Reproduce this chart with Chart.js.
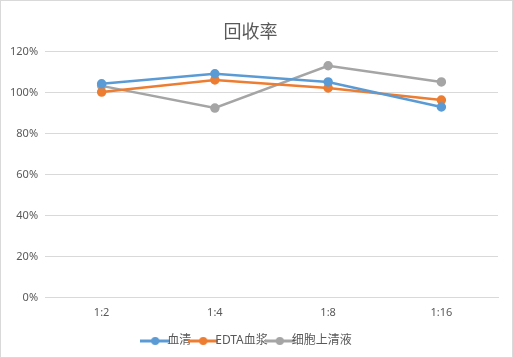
<!DOCTYPE html>
<html>
<head>
<meta charset="utf-8">
<script src="https://cdn.jsdelivr.net/npm/chart.js@4/dist/chart.umd.min.js"></script>
<style>
  html, body { margin: 0; padding: 0; background: #fff; }
  #wrap { position: relative; width: 511px; height: 356px; border: 1px solid #d9d9d9; }
</style>
</head>
<body>
<div id="wrap"><canvas id="lineChart"></canvas></div>
<script>
var xLabels = ["1:2", "1:4", "1:8", "1:16"];
var serum = [1.043, 1.092, 1.052, 0.93];
var edtaPlasma = [1.003, 1.062, 1.023, 0.964];
var cellSupernatant = [1.033, 0.925, 1.131, 1.052];
var seriesNames = ["血清", "EDTA血浆", "细胞上清液"];
var lineColors = ["#5B9BD5", "#ED7D31", "#A5A5A5"];

var font = "'Noto Sans', 'Noto Sans CJK SC', sans-serif";

// legend swatch: short line with a dot in the middle
function legendMark(color) {
    var c = document.createElement("canvas");
    c.width = 30;
    c.height = 10;
    var ctx = c.getContext("2d");
    ctx.strokeStyle = color;
    ctx.lineWidth = 3;
    ctx.beginPath();
    ctx.moveTo(0, 5);
    ctx.lineTo(30, 5);
    ctx.stroke();
    ctx.fillStyle = color;
    ctx.beginPath();
    ctx.arc(15, 5, 4, 0, Math.PI * 2);
    ctx.fill();
    return c;
}

// empty space above the legend items (acts like an invisible legend title)
var legendGap = {
    id: "legendGap",
    beforeInit: function (chart) {
        chart.legend._computeTitleHeight = function () { return 10; };
    }
};

var allValues = [serum, edtaPlasma, cellSupernatant];
var datasets = allValues.map(function (vals, i) {
    return {
        label: seriesNames[i],
        data: vals,
        borderColor: lineColors[i],
        backgroundColor: lineColors[i],
        borderWidth: 2.5,
        pointRadius: 3.5,
        pointHoverRadius: 4,
        pointStyle: "circle",
        tension: 0
    };
});

new Chart("lineChart", {
    type: "line",
    data: {
        labels: xLabels,
        datasets: datasets
    },
    options: {
        responsive: true,
        maintainAspectRatio: false,
        animation: false,
        layout: { padding: { left: 2, right: 14, top: 15, bottom: 0 } },
        plugins: {
            title: {
                display: true,
                text: "回收率",
                color: "#595959",
                font: { family: font, size: 18, weight: "normal" },
                padding: { top: 6, bottom: 8 }
            },
            legend: {
                position: "bottom",
                labels: {
                    color: "#595959",
                    font: { family: font, size: 12 },
                    usePointStyle: true,
                    boxWidth: 30,
                    padding: 6,
                    generateLabels: function (chart) {
                        return chart.data.datasets.map(function (ds, i) {
                            return {
                                text: ds.label,
                                pointStyle: legendMark(ds.borderColor),
                                fillStyle: ds.borderColor,
                                strokeStyle: ds.borderColor,
                                lineWidth: 0,
                                fontColor: "#595959",
                                datasetIndex: i
                            };
                        });
                    }
                }
            },
            tooltip: { enabled: false }
        },
        scales: {
            x: {
                offset: true,
                grid: { display: false },
                border: { color: "#d9d9d9" },
                ticks: { color: "#595959", font: { family: font, size: 11 }, padding: 0 }
            },
            y: {
                min: 0,
                max: 1.2,
                ticks: {
                    stepSize: 0.2,
                    color: "#595959",
                    font: { family: font, size: 11 },
                    padding: 7,
                    callback: function (v) { return Math.round(v * 100) + "%"; }
                },
                grid: { color: "#d9d9d9", drawTicks: false },
                border: { display: false }
            }
        }
    },
    plugins: [legendGap]
});
</script>
</body>
</html>
